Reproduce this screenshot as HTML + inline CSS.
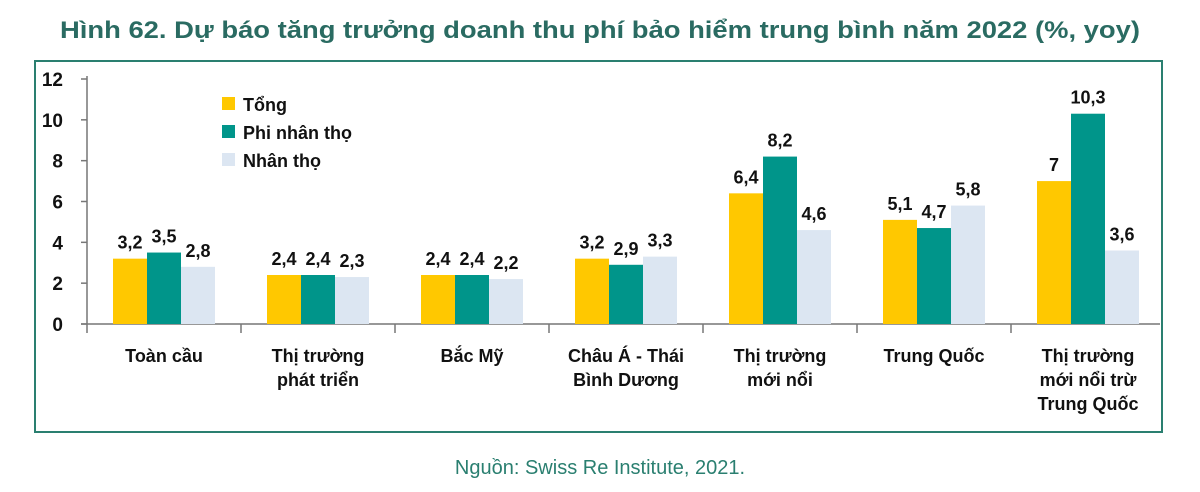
<!DOCTYPE html>
<html><head><meta charset="utf-8"><style>
body{margin:0;background:#fff;width:1200px;height:492px;overflow:hidden}
svg{display:block}
text{font-family:"Liberation Sans",sans-serif}
</style></head><body>
<svg id="c" width="1200" height="492">
<text x="600" y="38" text-anchor="middle" font-size="24" font-weight="bold" fill="#2a6b62" textLength="1080" lengthAdjust="spacingAndGlyphs">Hình 62. Dự báo tăng trưởng doanh thu phí bảo hiểm trung bình năm 2022 (%, yoy)</text>
<rect x="35" y="61" width="1127" height="371" fill="none" stroke="#2a7f70" stroke-width="2"/>
<text x="600" y="474" text-anchor="middle" font-size="20" fill="#2a7f70">Nguồn: Swiss Re Institute, 2021.</text>
<g id="plot"></g>
</svg>
<script>
const categories=[["Toàn cầu"],["Thị trường","phát triển"],["Bắc Mỹ"],["Châu Á - Thái","Bình Dương"],["Thị trường","mới nổi"],["Trung Quốc"],["Thị trường","mới nổi trừ","Trung Quốc"]];
const seriesNames=["Tổng","Phi nhân thọ","Nhân thọ"];
const tong=[3.2,2.4,2.4,3.2,6.4,5.1,7];
const phi=[3.5,2.4,2.4,2.9,8.2,4.7,10.3];
const nhan=[2.8,2.3,2.2,3.3,4.6,5.8,3.6];
const yTicks=[0,2,4,6,8,10,12];
const colors=["#ffc800","#00958a","#dce6f2"];
const g=document.getElementById('plot');
const NS="http://www.w3.org/2000/svg";
const X0=87,CW=154,Y0=324,Y12=79,BW=34;
const y=v=>Y0-(v/12)*(Y0-Y12);
const cx=i=>X0+CW*i+CW/2;
function mk(t,a,txt){const e=document.createElementNS(NS,t);for(const k in a)e.setAttribute(k,a[k]);if(txt!==undefined)e.textContent=txt;g.appendChild(e);return e;}
let e=mk('line',{x1:X0,y1:Y12-3,x2:X0,y2:Y0+9,stroke:'#777','stroke-width':1.5});


e=mk('line',{x1:X0-6,y1:Y0,x2:1160,y2:Y0,stroke:'#777','stroke-width':1.5});


yTicks.forEach(v=>{
 let t=mk('line',{x1:X0-6,y1:y(v),x2:X0,y2:y(v),stroke:'#777','stroke-width':1.5});
 
 
 let l=mk('text',{x:63,y:y(v)+7,'text-anchor':'end','font-size':19,'font-weight':'bold',fill:'#111'},String(v));
 
 
});
for(let i=1;i<categories.length;i++){
 let t=mk('line',{x1:X0+CW*i,y1:Y0,x2:X0+CW*i,y2:Y0+9,stroke:'#777','stroke-width':1.5});
 
 
}
const series=[tong,phi,nhan];
categories.forEach((c,i)=>{
 series.forEach((s,k)=>{
  const bx=cx(i)-1.5*BW+k*BW;
  let r=mk('rect',{x:bx,y:y(s[i]),width:BW,height:Y0-y(s[i]),fill:colors[k]});
  
  
  let l=mk('text',{x:bx+BW/2,y:y(s[i])-10,'text-anchor':'middle','font-size':18,'font-weight':'bold',fill:'#111'},String(s[i]).replace('.',','));
  
  
 });
 c.forEach((line,j)=>{
  let l=mk('text',{x:cx(i),y:362+j*24,'text-anchor':'middle','font-size':18,'font-weight':'bold',fill:'#111'},line);
  
  
 });
});
seriesNames.forEach((n,k)=>{
 let r=mk('rect',{x:222,y:97+k*28,width:13,height:13,fill:colors[k]});
 
 
 let l=mk('text',{x:243,y:111+k*28,'font-size':18,'font-weight':'bold',fill:'#111'},n);
 
 
});
</script>
</body></html>
